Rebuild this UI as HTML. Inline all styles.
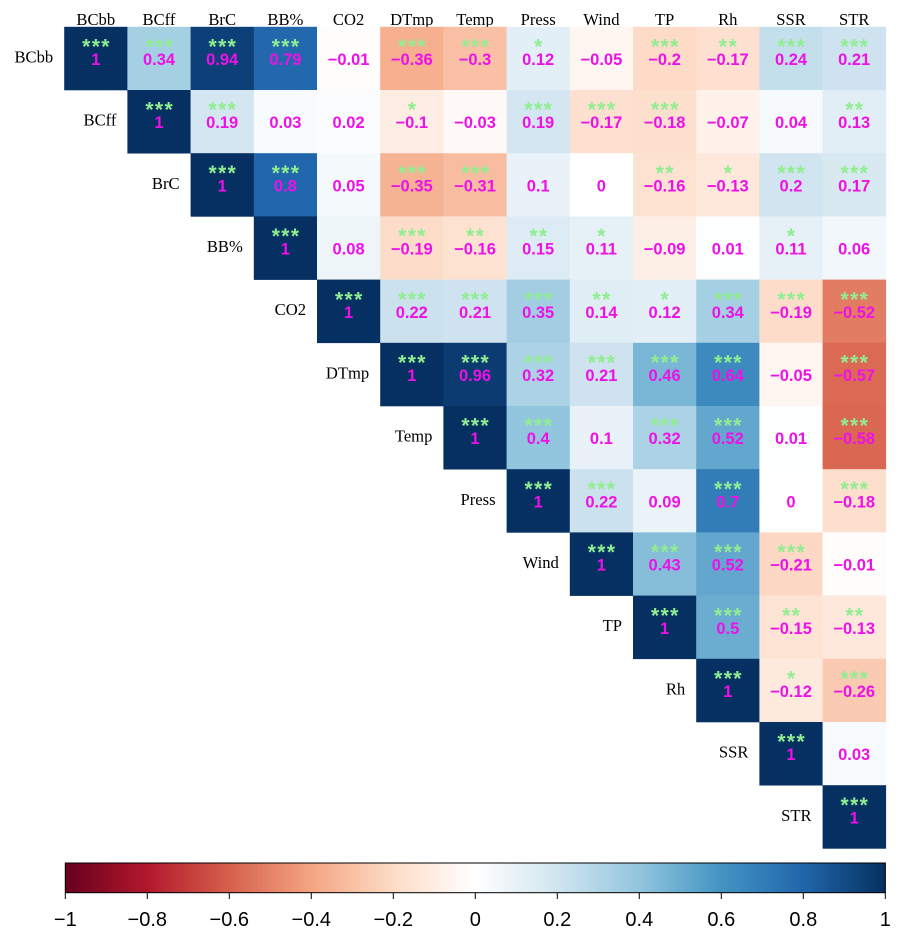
<!DOCTYPE html>
<html><head><meta charset="utf-8">
<style>
html,body{margin:0;padding:0;background:#fff;width:905px;height:938px;overflow:hidden}
svg{display:block}
.lab{font-family:"Liberation Serif",serif;font-size:16.6px;fill:#000}
.val{font-family:"Liberation Sans",sans-serif;font-weight:bold;font-size:16.5px;fill:#ee11e6;text-anchor:middle}
.star{font-family:"Liberation Sans",sans-serif;font-weight:bold;font-size:21px;fill:#90ee90;text-anchor:middle;letter-spacing:1.4px}
.tick{font-family:"Liberation Sans",sans-serif;font-size:20px;fill:#000;text-anchor:middle}
</style></head>
<body>
<svg id="chart" width="905" height="938" viewBox="0 0 905 938" xmlns="http://www.w3.org/2000/svg"></svg>
<script>
const variables = ["BCbb","BCff","BrC","BB%","CO2","DTmp","Temp","Press","Wind","TP","Rh","SSR","STR"];
const correlations = [
 [1,0.34,0.94,0.79,-0.01,-0.36,-0.3,0.12,-0.05,-0.2,-0.17,0.24,0.21],
 [1,0.19,0.03,0.02,-0.1,-0.03,0.19,-0.17,-0.18,-0.07,0.04,0.13],
 [1,0.8,0.05,-0.35,-0.31,0.1,0,-0.16,-0.13,0.2,0.17],
 [1,0.08,-0.19,-0.16,0.15,0.11,-0.09,0.01,0.11,0.06],
 [1,0.22,0.21,0.35,0.14,0.12,0.34,-0.19,-0.52],
 [1,0.96,0.32,0.21,0.46,0.64,-0.05,-0.57],
 [1,0.4,0.1,0.32,0.52,0.01,-0.58],
 [1,0.22,0.09,0.7,0,-0.18],
 [1,0.43,0.52,-0.21,-0.01],
 [1,0.5,-0.15,-0.13],
 [1,-0.12,-0.26],
 [1,0.03],
 [1]
];
const significance = [
 [3,3,3,3,0,3,3,1,0,3,2,3,3],
 [3,3,0,0,1,0,3,3,3,0,0,2],
 [3,3,0,3,3,0,0,2,1,3,3],
 [3,0,3,2,2,1,0,0,1,0],
 [3,3,3,3,2,1,3,3,3],
 [3,3,3,3,3,3,0,3],
 [3,3,0,3,3,0,3],
 [3,3,0,3,0,3],
 [3,3,3,3,0],
 [3,3,2,2],
 [3,1,3],
 [3,0],
 [3]
];
const colorbarTicks = [-1,-0.8,-0.6,-0.4,-0.2,0,0.2,0.4,0.6,0.8,1];
const palette = ["#67001F","#B2182B","#D6604D","#F4A582","#FDDBC7","#FFFFFF","#D1E5F0","#92C5DE","#4393C3","#2166AC","#053061"];

const NS = "http://www.w3.org/2000/svg";
const svg = document.getElementById("chart");
const gridLeft = 64.2, gridTop = 26.8, cellSize = 63.2;
const barLeft = 65.3, barRight = 885.3, barTop = 863, barBottom = 892.7;

function xCell(i){ return gridLeft + i * cellSize; }
function yCell(i){ return gridTop + i * cellSize; }
function xBar(v){ return barLeft + (v + 1) / 2 * (barRight - barLeft); }
function fmt(v){ return String(v).replace("-", "\u2212"); }
function hexRgb(h){ return [1,3,5].map(function(p){ return parseInt(h.substr(p,2),16); }); }
function colorFor(v){
  const t = Math.max(0, Math.min(1, (v + 1) / 2)) * (palette.length - 1);
  const i = Math.min(palette.length - 2, Math.floor(t));
  const a = hexRgb(palette[i]), b = hexRgb(palette[i + 1]), f = t - i;
  return "rgb(" + a.map(function(c, k){ return Math.round(c + (b[k] - c) * f); }).join(",") + ")";
}
function add(tag, attrs, text){
  const el = document.createElementNS(NS, tag);
  for (const k in attrs) el.setAttribute(k, attrs[k]);
  if (text !== undefined) el.textContent = text;
  svg.appendChild(el);
  return el;
}

variables.forEach(function(name, i){
  const top = add("text", {x: xCell(i) + cellSize / 2, y: 25, "text-anchor": "middle", class: "lab"}, name);
  
  
  const side = add("text", {x: xCell(i) - 11, y: yCell(i) + cellSize / 2 + 4, "text-anchor": "end", class: "lab"}, name);
  
  
});

correlations.forEach(function(row, r){
  row.forEach(function(v, k){
    const c = r + k;
    const cell = add("rect", {x: xCell(c), y: yCell(r), width: cellSize + 0.3, height: cellSize + 0.3, fill: colorFor(v)});
    
    
  });
});
correlations.forEach(function(row, r){
  row.forEach(function(v, k){
    const c = r + k;
    const cx = xCell(c) + cellSize / 2;
    const n = significance[r][k];
    if (n > 0) {
      const st = add("text", {x: cx + 0.7, y: yCell(r) + 26.7, class: "star"}, "*".repeat(n));
      
      
    }
    const t = add("text", {x: cx, y: yCell(r) + 38.2, class: "val"}, fmt(v));
    
    
  });
});

const steps = 200;
for (let s = 0; s < steps; s++) {
  const v = -1 + 2 * (s + 0.5) / steps;
  const w = (barRight - barLeft) / steps;
  const seg = add("rect", {x: barLeft + s * w, y: barTop, width: w + 0.4, height: barBottom - barTop, fill: colorFor(v)});
  
  
}
const frame = add("rect", {x: barLeft, y: barTop, width: barRight - barLeft, height: barBottom - barTop, fill: "none", stroke: "#000", "stroke-width": 1});


colorbarTicks.forEach(function(v){
  const m = add("line", {x1: xBar(v), x2: xBar(v), y1: barBottom, y2: barBottom + 6.3, stroke: "#000", "stroke-width": 1});
  
  
  const l = add("text", {x: xBar(v), y: 926, class: "tick"}, fmt(v));
  
  
});
</script>
</body></html>
